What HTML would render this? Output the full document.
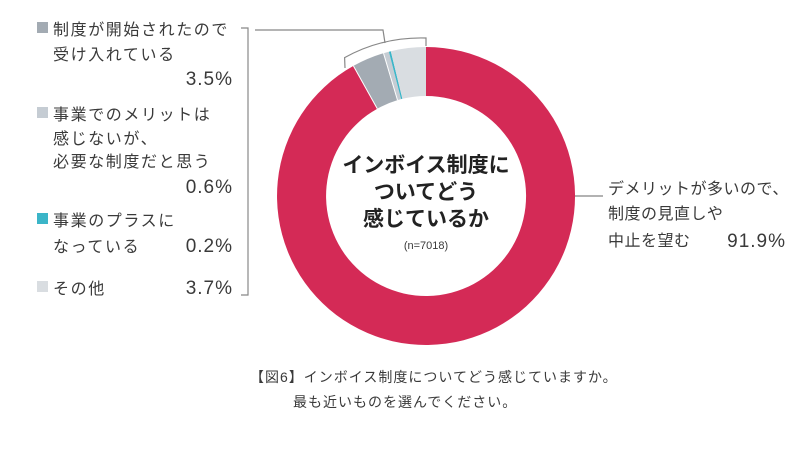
<!DOCTYPE html>
<html><head><meta charset="utf-8"><style>
body{margin:0;background:#fff;}
svg text{font-family:"Liberation Sans","Noto Sans CJK JP",sans-serif;fill:#3a3a3a;}
</style></head><body>
<svg width="792" height="446" viewBox="0 0 792 446" xmlns="http://www.w3.org/2000/svg">
<path d="M426,47 A149,149 0 1 1 353.4,65.9 L377.3,108.7 A100,100 0 1 0 426,96 Z" fill="#d42a56"/>
<path d="M353.4,65.9 A149,149 0 0 1 383.5,53.2 L397.5,100.1 A100,100 0 0 0 377.3,108.7 Z" fill="#a3abb3"/>
<path d="M383.5,53.2 A149,149 0 0 1 388.9,51.7 L401.1,99.1 A100,100 0 0 0 397.5,100.1 Z" fill="#c5ccd3"/>
<path d="M388.9,51.7 A149,149 0 0 1 390.8,51.2 L402.4,98.8 A100,100 0 0 0 401.1,99.1 Z" fill="#3bb5c8"/>
<path d="M390.8,51.2 A149,149 0 0 1 426,47 L426,96 A100,100 0 0 0 402.4,98.8 Z" fill="#d9dde1"/>
<line x1="353.4" y1="65.9" x2="377.3" y2="108.7" stroke="#fff" stroke-width="1"/>
<line x1="383.5" y1="53.2" x2="397.5" y2="100.1" stroke="#fff" stroke-width="1"/>
<path d="M345,68 L344.6,57.6 A158,158 0 0 1 426,38 L426,46" fill="none" stroke="#888" stroke-width="1.2"/>
<path d="M385,43 L383,30 L255,30" fill="none" stroke="#888" stroke-width="1.2"/>
<path d="M241,28 L248,28 L248,295 L241,295" fill="none" stroke="#888" stroke-width="1.2"/>
<line x1="575" y1="196" x2="603" y2="196" stroke="#666" stroke-width="1"/>
<g font-size="16" letter-spacing="1.6">
<rect x="37" y="22" width="11" height="11" fill="#a3abb3"/>
<text x="53" y="35">制度が開始されたので</text>
<text x="53" y="60">受け入れている</text>
<text x="233" y="85" text-anchor="end" font-size="19" letter-spacing="1">3.5%</text>
<rect x="37" y="107" width="11" height="11" fill="#c5ccd3"/>
<text x="53" y="120">事業でのメリットは</text>
<text x="53" y="144">感じないが、</text>
<text x="53" y="167">必要な制度だと思う</text>
<text x="233" y="193" text-anchor="end" font-size="19" letter-spacing="1">0.6%</text>
<rect x="37" y="213" width="11" height="11" fill="#3bb5c8"/>
<text x="53" y="226">事業のプラスに</text>
<text x="53" y="252">なっている</text>
<text x="233" y="252" text-anchor="end" font-size="19" letter-spacing="1">0.2%</text>
<rect x="37" y="281" width="11" height="11" fill="#d9dde1"/>
<text x="53" y="294">その他</text>
<text x="233" y="294" text-anchor="end" font-size="19" letter-spacing="1">3.7%</text>
</g>
<g text-anchor="middle" font-weight="bold" font-size="21">
<text x="426" y="172" style="fill:#222">インボイス制度に</text>
<text x="426" y="199" style="fill:#222">ついてどう</text>
<text x="426" y="226" style="fill:#222">感じているか</text>
</g>
<text x="426" y="249" text-anchor="middle" font-size="11">(n=7018)</text>
<g font-size="16" letter-spacing="0.5">
<text x="608" y="194">デメリットが多いので、</text>
<text x="608" y="219">制度の見直しや</text>
<text x="608" y="246">中止を望む</text>
<text x="786" y="247" text-anchor="end" font-size="19" letter-spacing="1">91.9%</text>
</g>
<g font-size="14" letter-spacing="1">
<text x="250" y="382">【図6】インボイス制度についてどう感じていますか。</text>
<text x="293" y="407">最も近いものを選んでください。</text>
</g>
</svg>
</body></html>
